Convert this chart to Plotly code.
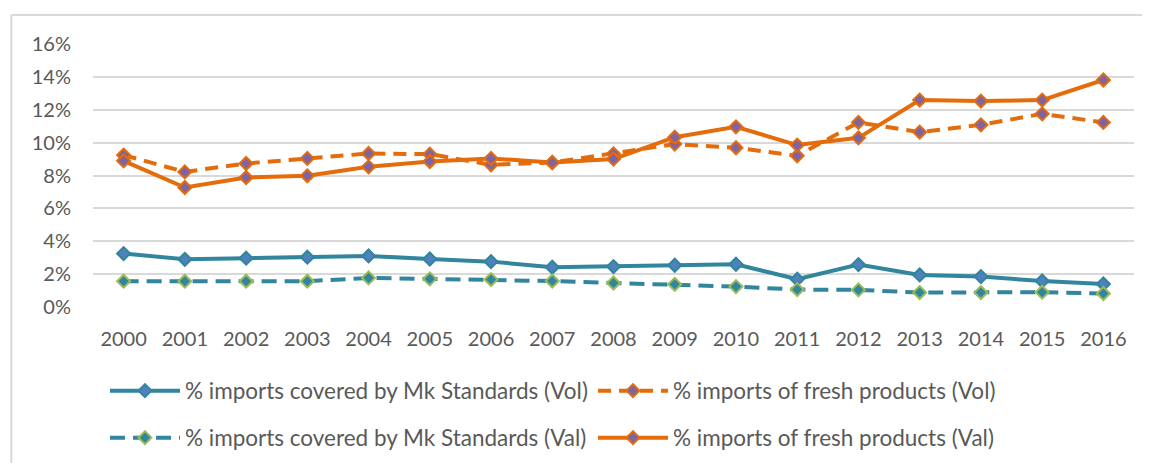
import plotly.graph_objects as go

years = [str(y) for y in range(2000, 2017)]
mk_vol = [3.25, 2.90, 2.97, 3.03, 3.11, 2.92, 2.76, 2.42, 2.46, 2.54, 2.60, 1.69, 2.58, 1.95, 1.85, 1.58, 1.40]
fresh_vol = [9.24, 8.22, 8.73, 9.04, 9.34, 9.30, 8.65, 8.79, 9.32, 9.91, 9.69, 9.20, 11.23, 10.64, 11.08, 11.75, 11.23]
mk_val = [1.57, 1.57, 1.57, 1.57, 1.77, 1.71, 1.67, 1.58, 1.46, 1.38, 1.24, 1.06, 1.04, 0.88, 0.88, 0.90, 0.82]
fresh_val = [8.89, 7.27, 7.88, 7.98, 8.53, 8.85, 9.04, 8.79, 9.00, 10.33, 10.96, 9.85, 10.29, 12.59, 12.53, 12.59, 13.81]
names = [
    "% imports covered by Mk Standards (Vol)",
    "% imports of fresh products (Vol)",
    "% imports covered by Mk Standards (Val)",
    "% imports of fresh products (Val)",
]
y_ticks = [0, 0.02, 0.04, 0.06, 0.08, 0.10, 0.12, 0.14, 0.16]

TEAL = "#31859C"
ORANGE = "#E46C0A"
PURPLE = "#8064A2"
BLUE = "#4F81BD"
GREEN = "#9BBB59"
GRID = "#D9D9D9"
TXT = "#595959"
FONT = "Lato"

W, H = 1142, 455

series = [
    (mk_vol, names[0], TEAL, "solid", BLUE, TEAL, "legend"),
    (fresh_vol, names[1], ORANGE, "13px,8px", PURPLE, ORANGE, "legend"),
    (mk_val, names[2], TEAL, "15px,8px", TEAL, GREEN, "legend2"),
    (fresh_val, names[3], ORANGE, "solid", PURPLE, ORANGE, "legend2"),
]

fig = go.Figure()
for vals, name, col, dash, mfill, mline, leg in series:
    fig.add_trace(go.Scatter(
        x=years, y=[v / 100 for v in vals], name=name, mode="lines+markers",
        line=dict(color=col, width=4, dash=dash),
        marker=dict(symbol="diamond", size=10, color=mfill, line=dict(color=mline, width=2)),
        legend=leg,
    ))

# outer chart border (left and top edges visible)
fig.add_shape(type="line", xref="paper", yref="paper", x0=-0.0785, x1=-0.0785, y0=-0.7, y1=1.11,
              line=dict(color=GRID, width=2))
fig.add_shape(type="line", xref="paper", yref="paper", x0=-0.0785, x1=1.05, y0=1.11, y1=1.11,
              line=dict(color=GRID, width=2))

leg_common = dict(orientation="h", xref="container", yref="container", xanchor="left", yanchor="middle",
                  entrywidth=403, entrywidthmode="pixels", itemwidth=70,
                  font=dict(family=FONT, size=22.5, color=TXT), bgcolor="rgba(0,0,0,0)")

fig.update_layout(
    width=W, height=H,
    margin=dict(l=85, r=16, t=36, b=156, autoexpand=False),
    paper_bgcolor="white", plot_bgcolor="white",
    font=dict(family=FONT, size=20, color=TXT),
    showlegend=True,
    legend=dict(x=97 / W, y=1 - 383 / H, **leg_common),
    legend2=dict(x=97 / W, y=1 - 430 / H, **leg_common),
    xaxis=dict(type="category", range=[-0.5, 16.5], showgrid=False, showline=False, zeroline=False,
               ticks="", ticklabelstandoff=18, tickfont=dict(family=FONT, size=20, color=TXT),
               fixedrange=True),
    yaxis=dict(range=[0, 0.16], tickvals=y_ticks, tickformat=".0%", showgrid=True, gridcolor=GRID,
               gridwidth=1.5, zeroline=False, showline=False, ticks="", ticklabelstandoff=21,
               tickfont=dict(family=FONT, size=20, color=TXT)),
)

fig.write_html("out.html")
